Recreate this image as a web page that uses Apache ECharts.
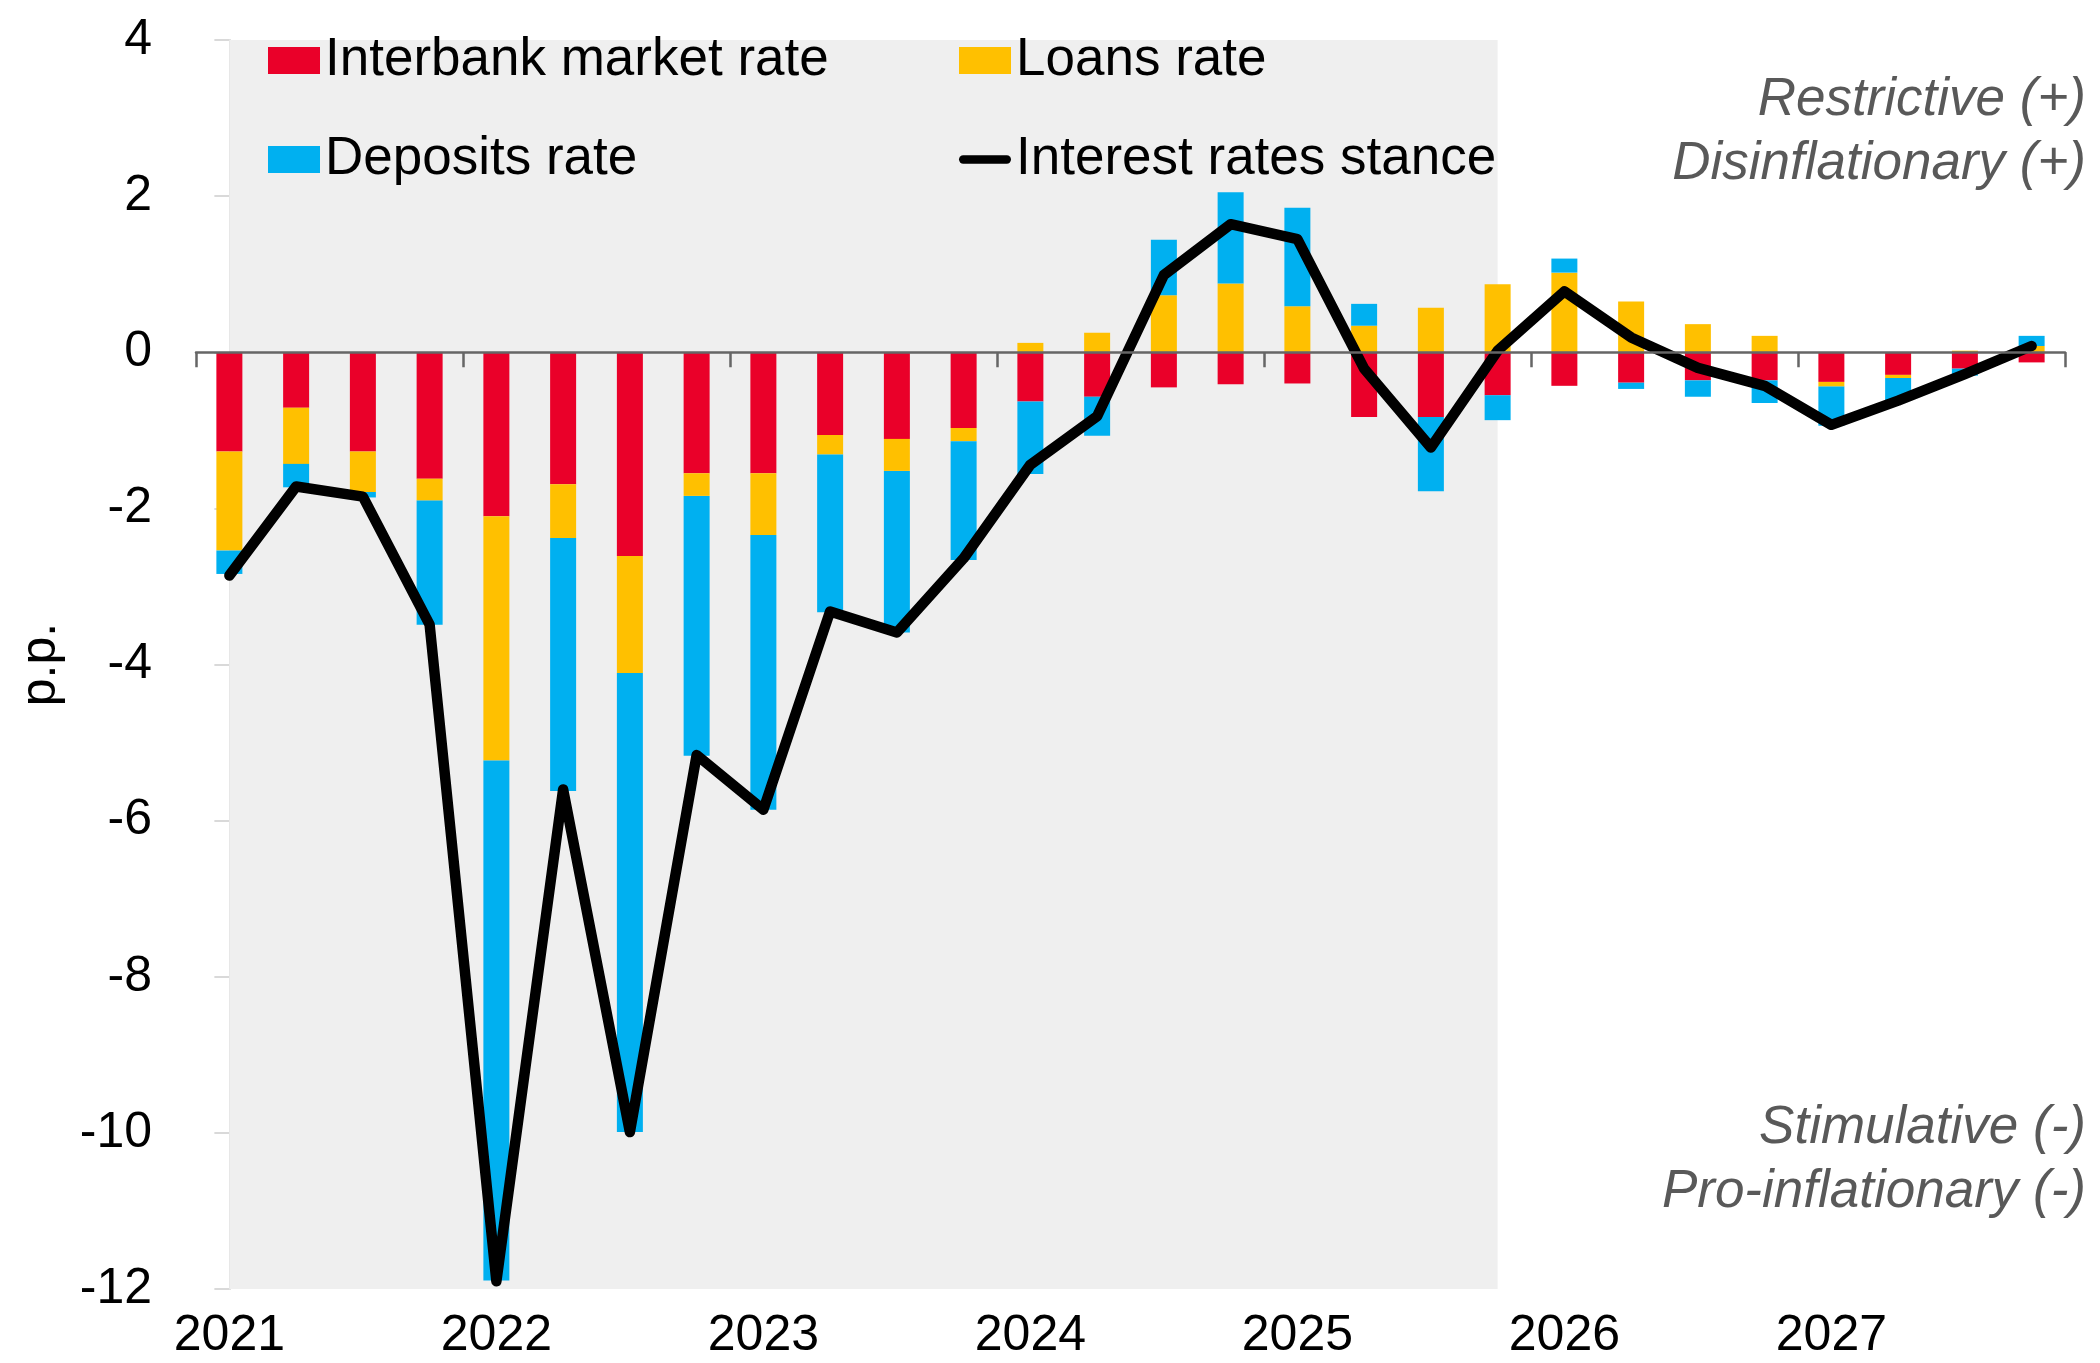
<!DOCTYPE html>
<html>
<head>
<meta charset="utf-8">
<script src="https://cdn.jsdelivr.net/npm/echarts@6/dist/echarts.min.js"></script>
<style>
  html, body { margin: 0; padding: 0; background: #fff; }
  #chart { width: 2100px; height: 1363px; }
</style>
</head>
<body>
<div id="chart"></div>
<script>
// quarterly contributions, p.p.
const quarters = [
  '2021Q1', '2021Q2', '2021Q3', '2021Q4',
  '2022Q1', '2022Q2', '2022Q3', '2022Q4',
  '2023Q1', '2023Q2', '2023Q3', '2023Q4',
  '2024Q1', '2024Q2', '2024Q3', '2024Q4',
  '2025Q1', '2025Q2', '2025Q3', '2025Q4',
  '2026Q1', '2026Q2', '2026Q3', '2026Q4',
  '2027Q1', '2027Q2', '2027Q3', '2027Q4'
];
const interbank = [
  -1.27, -0.71, -1.27, -1.62,
  -2.10, -1.69, -2.61, -1.55,
  -1.55, -1.06, -1.11, -0.97,
  -0.63, -0.57, -0.45, -0.41,
  -0.40, -0.83, -0.83, -0.55,
  -0.43, -0.39, -0.36, -0.36,
  -0.38, -0.29, -0.21, -0.13
];
const loans = [
  -1.27, -0.72, -0.52, -0.28,
  -3.13, -0.69, -1.50, -0.29,
  -0.79, -0.25, -0.41, -0.17,
  0.12, 0.25, 0.73, 0.88,
  0.59, 0.34, 0.57, 0.87,
  1.02, 0.65, 0.36, 0.21,
  -0.06, -0.04, 0.02, 0.08
];
const deposits = [
  -0.30, -0.30, -0.07, -1.59,
  -6.66, -3.24, -5.88, -3.33,
  -3.52, -2.02, -2.07, -1.52,
  -0.93, -0.50, 0.71, 1.17,
  1.26, 0.28, -0.95, -0.32,
  0.18, -0.08, -0.21, -0.29,
  -0.50, -0.29, -0.09, 0.13
];
const stance = [
  -2.86, -1.72, -1.85, -3.49,
  -11.90, -5.60, -9.99, -5.16,
  -5.86, -3.32, -3.59, -2.64,
  -1.44, -0.82, 0.99, 1.64,
  1.45, -0.21, -1.22, 0.02,
  0.78, 0.19, -0.20, -0.43,
  -0.93, -0.62, -0.28, 0.08
];
// shaded part: actual data (before projection)
const historyStart = '2021Q1';
const historyEnd = '2025Q4';

const FONT = "'Liberation Sans', Arial, sans-serif";
const colors = { interbank: '#EA0029', loans: '#FFC000', deposits: '#00B0F0', stance: '#000000' };

const chart = echarts.init(document.getElementById('chart'));

const barSeries = (name, data, color) => ({
  name: name,
  type: 'bar',
  stack: 'rates',
  barWidth: 26,
  z: 2,
  itemStyle: { color: color },
  data: data
});

const legendBase = {
  orient: 'vertical',
  top: 34,
  padding: 0,
  itemWidth: 52,
  itemHeight: 27,
  itemGap: 46,
  textStyle: { fontSize: 53, color: '#000', fontFamily: FONT }
};

const noteText = (text, top) => ({
  type: 'text',
  right: 14,
  top: top,
  style: {
    text: text,
    font: 'italic 53px ' + FONT,
    fill: '#595959',
    lineHeight: 64
  }
});

const option = {
  animation: false,
  textStyle: { fontFamily: FONT },
  grid: { left: 196, right: 35, top: 40, bottom: 74 },
  legend: [
    Object.assign({}, legendBase, {
      left: 268,
      data: [
        { name: 'Interbank market rate', icon: 'rect' },
        { name: 'Deposits rate', icon: 'rect' }
      ]
    }),
    Object.assign({}, legendBase, {
      left: 959,
      data: [
        { name: 'Loans rate', icon: 'rect' },
        { name: 'Interest rates stance', icon: 'path://M5,0 L57,0 A5,5 0 0 1 57,10 L5,10 A5,5 0 0 1 5,0 Z' }
      ]
    })
  ],
  xAxis: [
    {
      type: 'category',
      data: quarters,
      position: 'bottom',
      axisLine: { show: false, onZero: false },
      axisTick: { show: false },
      axisLabel: {
        interval: 3,
        margin: 22,
        fontSize: 50,
        color: '#000',
        fontFamily: FONT,
        formatter: v => v.slice(0, 4)
      },
      splitLine: { show: false }
    },
    {
      type: 'category',
      data: quarters,
      position: 'bottom',
      z: 5,
      axisLine: { show: true, onZero: true, lineStyle: { color: '#666666', width: 2.5 } },
      axisTick: { show: true, interval: 3, length: 15, lineStyle: { color: '#666666', width: 2.5 } },
      axisLabel: { show: false },
      splitLine: { show: false }
    },
    {
      // index scale used for the shaded history band (centre of first to centre of last quarter)
      type: 'value',
      min: -0.5,
      max: quarters.length - 0.5,
      show: false
    }
  ],
  yAxis: {
    type: 'value',
    min: -12,
    max: 4,
    interval: 2,
    name: 'p.p.',
    nameLocation: 'middle',
    nameRotate: 90,
    nameGap: 130,
    nameTextStyle: { fontSize: 50, color: '#000', fontFamily: FONT },
    axisLine: { show: true, lineStyle: { color: '#D9D9D9', width: 2 } },
    axisTick: { show: true, length: 15, lineStyle: { color: '#D9D9D9', width: 2 } },
    axisLabel: { fontSize: 50, color: '#000', margin: 44, fontFamily: FONT },
    splitLine: { show: false }
  },
  graphic: [
    noteText('Restrictive (+)', 68),
    noteText('Disinflationary (+)', 132),
    noteText('Stimulative (-)', 1096),
    noteText('Pro-inflationary (-)', 1160)
  ],
  series: [
    {
      name: 'history',
      type: 'line',
      xAxisIndex: 2,
      z: 1,
      silent: true,
      data: [],
      markArea: {
        silent: true,
        itemStyle: { color: '#EFEFEF' },
        data: [[{ xAxis: quarters.indexOf(historyStart) }, { xAxis: quarters.indexOf(historyEnd) }]]
      }
    },
    barSeries('Interbank market rate', interbank, colors.interbank),
    barSeries('Loans rate', loans, colors.loans),
    barSeries('Deposits rate', deposits, colors.deposits),
    {
      name: 'Interest rates stance',
      type: 'line',
      symbol: 'none',
      z: 4,
      lineStyle: { color: colors.stance, width: 10.5, cap: 'round', join: 'round' },
      itemStyle: { color: colors.stance },
      data: stance
    }
  ]
};

chart.setOption(option);
</script>
</body>
</html>
